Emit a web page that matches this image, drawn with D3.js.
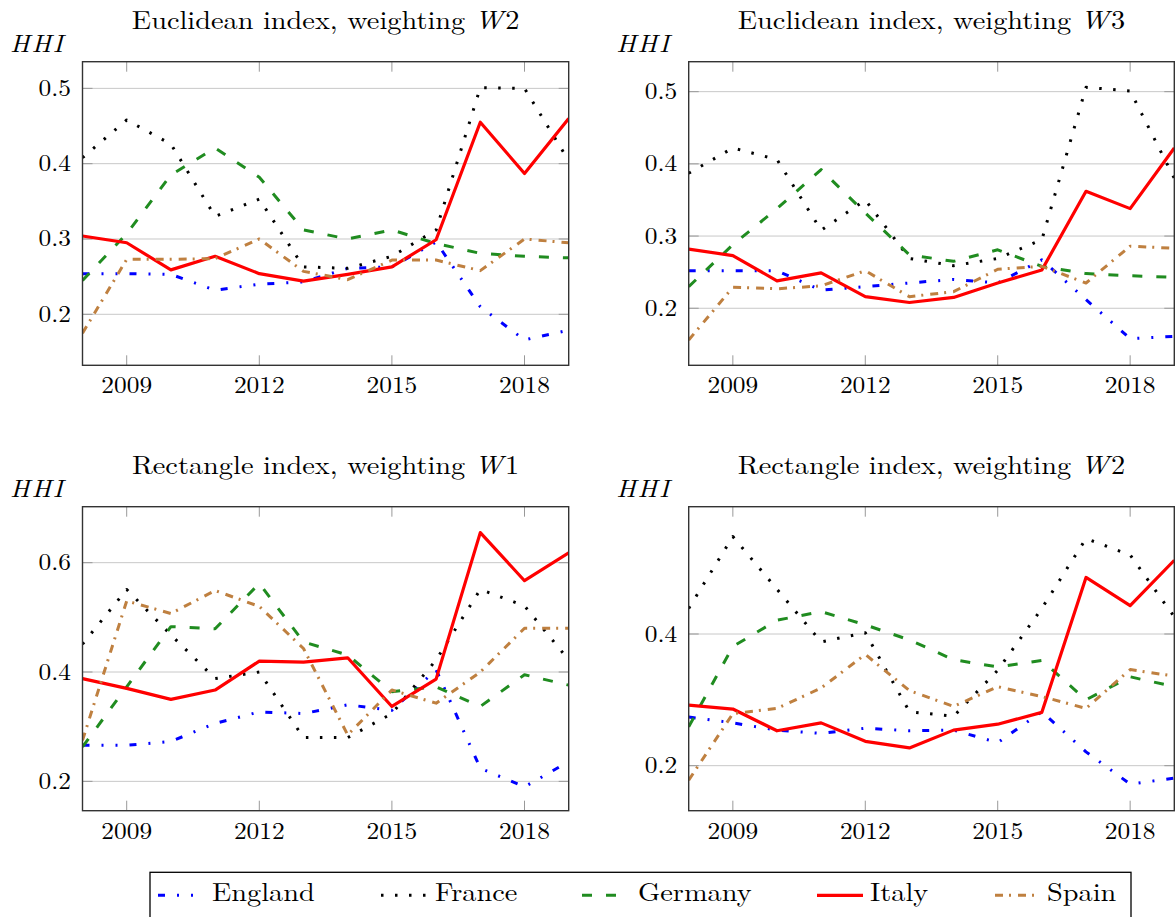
<!DOCTYPE html>
<html>
<head>
<meta charset="utf-8">
<script src="https://cdn.jsdelivr.net/npm/d3@7"></script>
<style>
  body { margin: 0; background: #fff; }
  svg { display: block; }
</style>
</head>
<body>
<svg id="chart" width="1175" height="917"></svg>
<script>
// years on the x axis
const years = [2008, 2009, 2010, 2011, 2012, 2013, 2014, 2015, 2016, 2017, 2018, 2019];
const xTicks = [2009, 2012, 2015, 2018];
const countries = ["England", "France", "Germany", "Italy", "Spain"];

// Euclidean index, weighting W2
const eucW2England = [0.254, 0.254, 0.253, 0.232, 0.240, 0.243, 0.261, 0.263, 0.296, 0.210, 0.166, 0.179];
const eucW2France  = [0.408, 0.458, 0.426, 0.330, 0.353, 0.263, 0.261, 0.277, 0.312, 0.501, 0.500, 0.404];
const eucW2Germany = [0.245, 0.307, 0.385, 0.421, 0.382, 0.312, 0.300, 0.312, 0.294, 0.281, 0.277, 0.275];
const eucW2Italy   = [0.304, 0.295, 0.259, 0.277, 0.254, 0.244, 0.253, 0.263, 0.299, 0.455, 0.387, 0.460];
const eucW2Spain   = [0.175, 0.273, 0.273, 0.274, 0.300, 0.257, 0.246, 0.272, 0.272, 0.258, 0.300, 0.295];

// Euclidean index, weighting W3
const eucW3England = [0.252, 0.252, 0.252, 0.225, 0.230, 0.235, 0.240, 0.235, 0.267, 0.212, 0.158, 0.161];
const eucW3France  = [0.387, 0.422, 0.406, 0.308, 0.350, 0.269, 0.259, 0.269, 0.295, 0.506, 0.501, 0.380];
const eucW3Germany = [0.230, 0.288, 0.338, 0.392, 0.332, 0.274, 0.265, 0.281, 0.258, 0.248, 0.245, 0.243];
const eucW3Italy   = [0.282, 0.273, 0.238, 0.249, 0.216, 0.208, 0.215, 0.235, 0.253, 0.362, 0.338, 0.422];
const eucW3Spain   = [0.156, 0.229, 0.227, 0.231, 0.252, 0.216, 0.223, 0.254, 0.258, 0.235, 0.286, 0.283];

// Rectangle index, weighting W1
const recW1England = [0.266, 0.266, 0.273, 0.306, 0.327, 0.324, 0.340, 0.330, 0.404, 0.224, 0.190, 0.236];
const recW1France  = [0.451, 0.551, 0.468, 0.388, 0.400, 0.280, 0.280, 0.324, 0.422, 0.551, 0.521, 0.422];
const recW1Germany = [0.263, 0.373, 0.483, 0.479, 0.562, 0.455, 0.431, 0.364, 0.373, 0.337, 0.395, 0.376];
const recW1Italy   = [0.388, 0.370, 0.350, 0.367, 0.420, 0.418, 0.426, 0.337, 0.387, 0.655, 0.567, 0.618];
const recW1Spain   = [0.275, 0.530, 0.507, 0.549, 0.520, 0.443, 0.285, 0.367, 0.343, 0.400, 0.480, 0.480];

// Rectangle index, weighting W2
const recW2England = [0.274, 0.265, 0.254, 0.249, 0.257, 0.253, 0.254, 0.235, 0.282, 0.221, 0.172, 0.181];
const recW2France  = [0.439, 0.548, 0.468, 0.388, 0.402, 0.282, 0.275, 0.345, 0.439, 0.545, 0.520, 0.426];
const recW2Germany = [0.259, 0.381, 0.421, 0.434, 0.414, 0.391, 0.361, 0.350, 0.360, 0.300, 0.335, 0.320];
const recW2Italy   = [0.292, 0.286, 0.253, 0.265, 0.237, 0.227, 0.254, 0.263, 0.281, 0.486, 0.443, 0.512];
const recW2Spain   = [0.178, 0.279, 0.287, 0.318, 0.369, 0.314, 0.290, 0.320, 0.305, 0.287, 0.346, 0.336];

// axis ranges and tick labels per panel
const titles = ["Euclidean index, weighting ", "Euclidean index, weighting ", "Rectangle index, weighting ", "Rectangle index, weighting "];
const weightNames = ["2", "3", "1", "2"];
const yRanges = [[0.1323, 0.5354], [0.121, 0.5415], [0.1463, 0.7024], [0.1316, 0.5934]];
const yTicks = [[0.2, 0.3, 0.4, 0.5], [0.2, 0.3, 0.4, 0.5], [0.2, 0.4, 0.6], [0.2, 0.4]];

const panelSeries = [
    [eucW2England, eucW2France, eucW2Germany, eucW2Italy, eucW2Spain],
    [eucW3England, eucW3France, eucW3Germany, eucW3Italy, eucW3Spain],
    [recW1England, recW1France, recW1Germany, recW1Italy, recW1Spain],
    [recW2England, recW2France, recW2Germany, recW2Italy, recW2Spain]
];

// estilos de las series
const styles = {
    England: { color: "#0000ff", dash: "7 12 2 12 2 12", width: 3 },
    France:  { color: "#000000", dash: "2.5 11.5", width: 3 },
    Germany: { color: "#208c20", dash: "10 14", width: 3 },
    Italy:   { color: "#ff0000", dash: null, width: 3.2 },
    Spain:   { color: "#bf8040", dash: "8 6 2 7", width: 3 }
};

const boxes = [
    { x0: 82.5, x1: 568.7, y0: 61.7, y1: 365.3 },
    { x0: 688.7, x1: 1174.3, y0: 61.7, y1: 365.3 },
    { x0: 82.5, x1: 568.7, y0: 506.7, y1: 810.7 },
    { x0: 688.7, x1: 1174.3, y0: 506.7, y1: 810.7 }
];

const FONT = "Latin Modern Roman, serif";
const stretch = 1.09; // the reference text is a little wider than tall

function addText(parent, x, y, str, size, anchor) {
    return parent.append("text")
        .attr("transform", `translate(${x},${y}) scale(${stretch},1)`)
        .attr("font-family", FONT)
        .attr("font-size", size)
        .attr("fill", "#000")
        .attr("text-anchor", anchor || "start")
        .text(str);
}

const svg = d3.select("#chart");

boxes.forEach((b, p) => {
    const x = d3.scaleLinear().domain([2008, 2019]).range([b.x0, b.x1]);
    const y = d3.scaleLinear().domain(yRanges[p]).range([b.y1, b.y0]);
    const g = svg.append("g");

    g.append("clipPath").attr("id", "clip" + p)
        .append("rect")
        .attr("x", b.x0).attr("y", b.y0)
        .attr("width", b.x1 - b.x0).attr("height", b.y1 - b.y0);

    // grid
    g.selectAll(".grid").data(yTicks[p]).enter().append("line")
        .attr("x1", b.x0).attr("x2", b.x1)
        .attr("y1", d => y(d)).attr("y2", d => y(d))
        .attr("stroke", "#c8c8c8").attr("stroke-width", 1);

    // ticks inward (x top/bottom, y left/right)
    xTicks.forEach(t => {
        g.append("line").attr("x1", x(t)).attr("x2", x(t)).attr("y1", b.y0).attr("y2", b.y0 + 10)
            .attr("stroke", "#999").attr("stroke-width", 1);
        g.append("line").attr("x1", x(t)).attr("x2", x(t)).attr("y1", b.y1).attr("y2", b.y1 - 10)
            .attr("stroke", "#999").attr("stroke-width", 1);
    });
    yTicks[p].forEach(t => {
        g.append("line").attr("x1", b.x0).attr("x2", b.x0 + 10).attr("y1", y(t)).attr("y2", y(t))
            .attr("stroke", "#999").attr("stroke-width", 1);
        g.append("line").attr("x1", b.x1).attr("x2", b.x1 - 10).attr("y1", y(t)).attr("y2", y(t))
            .attr("stroke", "#999").attr("stroke-width", 1);
    });

    // lines
    const line = d3.line().x((d, i) => x(years[i])).y(d => y(d));
    const lines = g.append("g").attr("clip-path", `url(#clip${p})`);
    countries.forEach((c, k) => {
        const s = styles[c];
        lines.append("path")
            .datum(panelSeries[p][k])
            .attr("d", line)
            .attr("fill", "none")
            .attr("stroke", s.color)
            .attr("stroke-width", s.width)
            .attr("stroke-dasharray", s.dash)
            .attr("stroke-linejoin", "round");
    });

    // frame
    g.append("rect")
        .attr("x", b.x0).attr("y", b.y0)
        .attr("width", b.x1 - b.x0).attr("height", b.y1 - b.y0)
        .attr("fill", "none").attr("stroke", "#333").attr("stroke-width", 1.4);

    // tick labels
    xTicks.forEach(t => addText(g, x(t), b.y1 + 28, String(t), 23.3, "middle"));
    yTicks[p].forEach(t => addText(g, b.x0 - 11.5, y(t) + 7.5, d3.format(".1f")(t), 23.3, "end"));

    // title
    const title = addText(g, (b.x0 + b.x1) / 2, b.y0 - 32.4, null, 26, "middle");
    title.append("tspan").text(titles[p]);
    title.append("tspan").attr("font-style", "italic").text("W");
    title.append("tspan").attr("dx", 2).text(weightNames[p]);

    // HHI label
    addText(g, b.x0 - 72.5, b.y0 - 10, "HHI", 24.4, "start")
        .attr("font-style", "italic")
        .attr("letter-spacing", 1.5);
});

// legend
const legendX = [158, 381, 582, 817, 995];
const legendTextX = [212, 435, 638, 870, 1047];
const legend = svg.append("g");
legend.append("rect")
    .attr("x", 150).attr("y", 872.3).attr("width", 981).attr("height", 60)
    .attr("fill", "none").attr("stroke", "#000").attr("stroke-width", 1.3);
countries.forEach((c, k) => {
    const s = styles[c];
    legend.append("line")
        .attr("x1", legendX[k]).attr("x2", legendX[k] + 46)
        .attr("y1", 895.3).attr("y2", 895.3)
        .attr("stroke", s.color).attr("stroke-width", s.width)
        .attr("stroke-dasharray", s.dash);
    addText(legend, legendTextX[k], 901, c, 26, "start");
});
</script>
</body>
</html>
